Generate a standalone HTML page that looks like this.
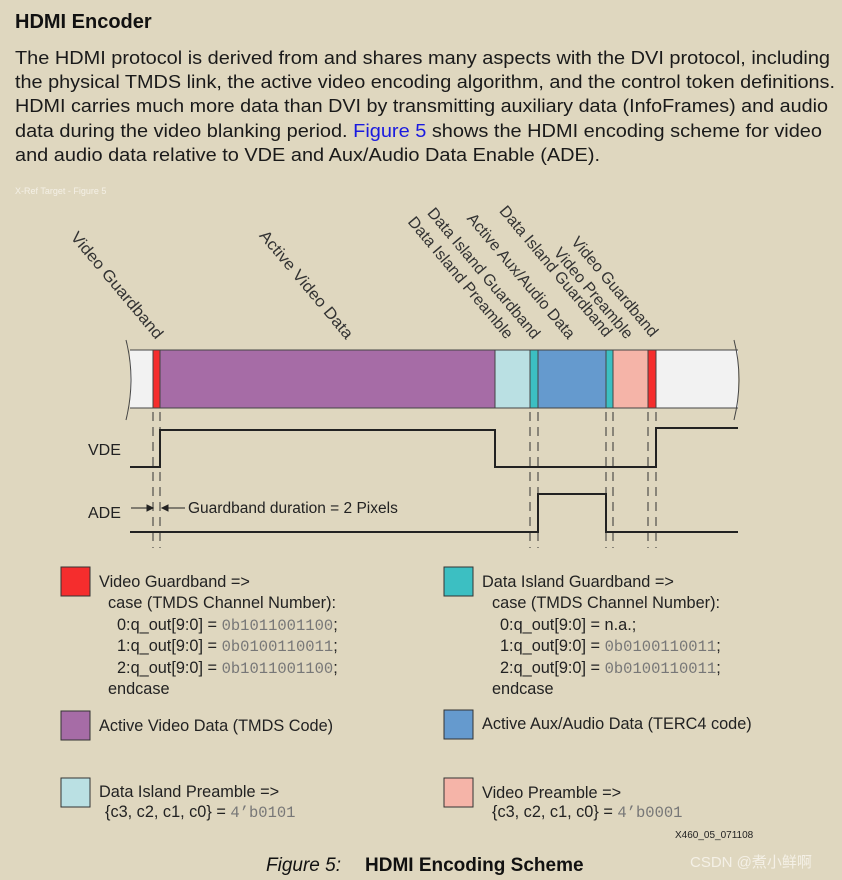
<!DOCTYPE html>
<html><head><meta charset="utf-8"><style>
html,body{margin:0;padding:0;background:#dfd7bf;}
svg{display:block;font-family:"Liberation Sans",sans-serif;}
</style></head><body>
<svg width="842" height="880" viewBox="0 0 842 880" xmlns="http://www.w3.org/2000/svg">
<rect width="842" height="880" fill="#dfd7bf"/>
<text x="15" y="28" font-size="20" font-weight="bold" fill="#111">HDMI Encoder</text>
<g font-size="18.5" fill="#1a1a1a">
<text x="15" y="64" textLength="815" lengthAdjust="spacingAndGlyphs">The HDMI protocol is derived from and shares many aspects with the DVI protocol, including</text>
<text x="15" y="88" textLength="820" lengthAdjust="spacingAndGlyphs">the physical TMDS link, the active video encoding algorithm, and the control token definitions.</text>
<text x="15" y="112" textLength="813" lengthAdjust="spacingAndGlyphs">HDMI carries much more data than DVI by transmitting auxiliary data (InfoFrames) and audio</text>
<text x="15" y="137" textLength="807" lengthAdjust="spacingAndGlyphs">data during the video blanking period. <tspan fill="#1a1ae0">Figure 5</tspan> shows the HDMI encoding scheme for video</text>
<text x="15" y="161" textLength="585" lengthAdjust="spacingAndGlyphs">and audio data relative to VDE and Aux/Audio Data Enable (ADE).</text>
</g>
<text x="15" y="194" font-size="9" fill="#f4f0e6">X-Ref Target - Figure 5</text>

<!-- rotated labels -->
<g font-size="16" fill="#333" text-anchor="end">
<text transform="translate(156,340) rotate(50)" textLength="134" lengthAdjust="spacingAndGlyphs">Video Guardband</text>
<text transform="translate(346,340) rotate(50)" textLength="136" lengthAdjust="spacingAndGlyphs">Active Video Data</text>
<text transform="translate(506,340) rotate(50)">Data Island Preamble</text>
<text transform="translate(533,340) rotate(50)">Data Island Guardband</text>
<text transform="translate(568,340) rotate(50)">Active Aux/Audio Data</text>
<text transform="translate(605,338) rotate(50)">Data Island Guardband</text>
<text transform="translate(626,340) rotate(50)">Video Preamble</text>
<text transform="translate(651,338) rotate(50)">Video Guardband</text>
</g>

<!-- bar -->
<rect x="130" y="350" width="608" height="58" fill="#f2f2f2"/>
<rect x="153" y="350" width="7" height="58" fill="#f52d2d"/>
<rect x="160" y="350" width="335" height="58" fill="#a66ca6"/>
<rect x="495" y="350" width="35" height="58" fill="#bae0e3"/>
<rect x="530" y="350" width="8" height="58" fill="#3cbfc2"/>
<rect x="538" y="350" width="68" height="58" fill="#659ace"/>
<rect x="606" y="350" width="7" height="58" fill="#3cbfc2"/>
<rect x="613" y="350" width="35" height="58" fill="#f5b4a8"/>
<rect x="648" y="350" width="8" height="58" fill="#f52d2d"/>
<g stroke="#444" stroke-width="1" fill="none">
<line x1="130" y1="350" x2="738" y2="350"/>
<line x1="130" y1="408" x2="738" y2="408"/>
<line x1="153" y1="350" x2="153" y2="408"/><line x1="160" y1="350" x2="160" y2="408"/>
<line x1="495" y1="350" x2="495" y2="408"/><line x1="530" y1="350" x2="530" y2="408"/>
<line x1="538" y1="350" x2="538" y2="408"/><line x1="606" y1="350" x2="606" y2="408"/>
<line x1="613" y1="350" x2="613" y2="408"/><line x1="648" y1="350" x2="648" y2="408"/>
<line x1="656" y1="350" x2="656" y2="408"/>
<path d="M126,340 Q136,379 126,420"/>
<path d="M734,340 Q744,379 734,420"/>
</g>
<!-- dashed guides -->
<g stroke="#333" stroke-width="1" stroke-dasharray="9,6">
<line x1="153" y1="412" x2="153" y2="548"/><line x1="160" y1="412" x2="160" y2="548"/>
<line x1="530" y1="412" x2="530" y2="548"/><line x1="538" y1="412" x2="538" y2="548"/>
<line x1="606" y1="412" x2="606" y2="548"/><line x1="613" y1="412" x2="613" y2="548"/>
<line x1="648" y1="412" x2="648" y2="548"/><line x1="656" y1="412" x2="656" y2="548"/>
</g>
<!-- signals -->
<g stroke="#222" stroke-width="2" fill="none">
<polyline points="130,467 160,467 160,430 495,430 495,467 656,467 656,428 738,428"/>
<polyline points="130,532 538,532 538,494 606,494 606,532 738,532"/>
</g>
<g font-size="16" fill="#222">
<text x="88" y="455">VDE</text>
<text x="88" y="518">ADE</text>
<text x="188" y="513" font-size="15.5">Guardband duration = 2 Pixels</text>
</g>
<g stroke="#222" stroke-width="1" fill="#222">
<line x1="131" y1="508" x2="150" y2="508"/><polygon points="153,508 147,505 147,511"/>
<line x1="166" y1="508" x2="185" y2="508"/><polygon points="162,508 168,505 168,511"/>
</g>

<!-- legend -->
<g stroke="#333" stroke-width="1">
<rect x="61" y="567" width="29" height="29" fill="#f52d2d"/>
<rect x="61" y="711" width="29" height="29" fill="#a66ca6"/>
<rect x="61" y="778" width="29" height="29" fill="#bae0e3"/>
<rect x="444" y="567" width="29" height="29" fill="#3cbfc2"/>
<rect x="444" y="710" width="29" height="29" fill="#659ace"/>
<rect x="444" y="778" width="29" height="29" fill="#f5b4a8"/>
</g>
<g font-size="16.3" fill="#222">
<text x="99" y="587">Video Guardband =&gt;</text>
<text x="108" y="608">case (TMDS Channel Number):</text>
<text x="117" y="630">0:q_out[9:0] = <tspan font-family="Liberation Mono" font-size="15.5" fill="#777">0b1011001100</tspan>;</text>
<text x="117" y="651">1:q_out[9:0] = <tspan font-family="Liberation Mono" font-size="15.5" fill="#777">0b0100110011</tspan>;</text>
<text x="117" y="673">2:q_out[9:0] = <tspan font-family="Liberation Mono" font-size="15.5" fill="#777">0b1011001100</tspan>;</text>
<text x="108" y="694">endcase</text>
<text x="99" y="731">Active Video Data (TMDS Code)</text>
<text x="99" y="797">Data Island Preamble =&gt;</text>
<text x="105" y="817">{c3, c2, c1, c0} = <tspan font-family="Liberation Mono" font-size="15.5" fill="#777">4’b0101</tspan></text>

<text x="482" y="587">Data Island Guardband =&gt;</text>
<text x="492" y="608">case (TMDS Channel Number):</text>
<text x="500" y="630">0:q_out[9:0] = n.a.;</text>
<text x="500" y="651">1:q_out[9:0] = <tspan font-family="Liberation Mono" font-size="15.5" fill="#777">0b0100110011</tspan>;</text>
<text x="500" y="673">2:q_out[9:0] = <tspan font-family="Liberation Mono" font-size="15.5" fill="#777">0b0100110011</tspan>;</text>
<text x="492" y="694">endcase</text>
<text x="482" y="729">Active Aux/Audio Data (TERC4 code)</text>
<text x="482" y="798">Video Preamble =&gt;</text>
<text x="492" y="817">{c3, c2, c1, c0} = <tspan font-family="Liberation Mono" font-size="15.5" fill="#777">4’b0001</tspan></text>
</g>
<text x="675" y="838" font-size="10" fill="#222">X460_05_071108</text>
<text x="266" y="871" font-size="19" font-style="italic" fill="#111">Figure 5:</text>
<text x="365" y="871" font-size="19" font-weight="bold" fill="#111">HDMI Encoding Scheme</text>
<text x="690" y="867" font-size="15" fill="#f4f0e6" font-family="Liberation Sans, Noto Sans CJK SC, sans-serif">CSDN @煮小鲜啊</text>
</svg>
</body></html>
